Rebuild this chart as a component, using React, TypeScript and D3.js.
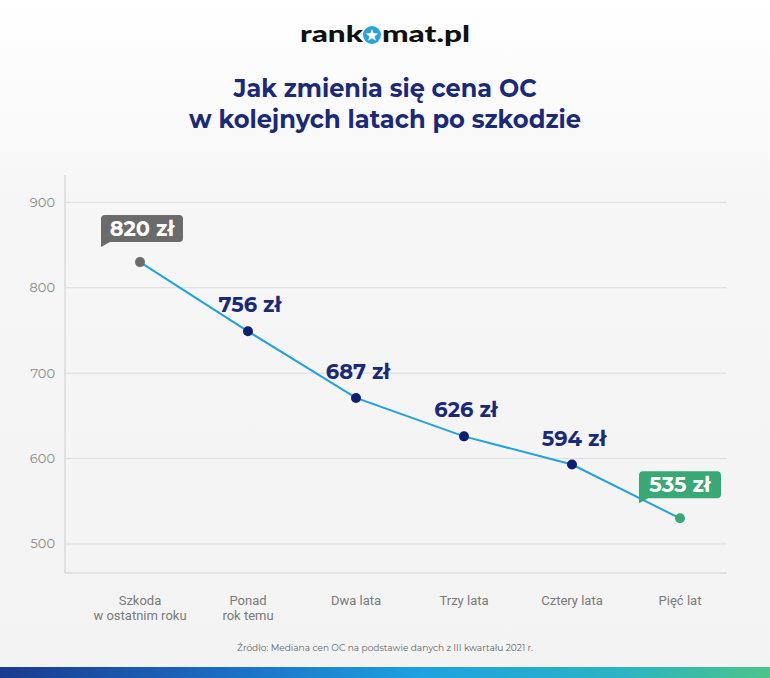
import React from "react";
import * as d3 from "d3";

const categories = ["Szkoda\nw ostatnim roku", "Ponad\nrok temu", "Dwa lata", "Trzy lata", "Cztery lata", "Pięć lat"];
const values = [830, 749, 671, 626, 593, 530];
const valueLabels = ["820 zł", "756 zł", "687 zł", "626 zł", "594 zł", "535 zł"];
const yTicks = [500, 600, 700, 800, 900];
const titleLines = ["Jak zmienia się cena OC", "w kolejnych latach po szkodzie"];
const sourceText = "Źródło: Mediana cen OC na podstawie danych z III kwartału 2021 r.";

const W = 770;
const H = 678;
const NAVY = "#1b2a78";
const LINE = "#1fa3e0";
const GRAY_BOX = "#6b6b6b";
const GREEN = "#38a874";

export default function App() {
  React.useEffect(() => {
    document.body.style.margin = "0";
  }, []);

  const x = d3.scalePoint<string>().domain(categories).range([140, 680]);
  const y = d3.scaleLinear().domain([466, 932]).range([573, 175]);
  const line = d3
    .line<number>()
    .x((_, i) => x(categories[i]) as number)
    .y((d) => y(d));

  const pointColor = (i: number) => (i === 0 ? GRAY_BOX : i === values.length - 1 ? GREEN : "#0d1f6e");

  const font = "Montserrat, 'Open Sans', Lato, sans-serif";

  return (
    <svg width={W} height={H} style={{ position: "absolute", left: 0, top: 0, display: "block" }}>
      <defs>
        <linearGradient id="bg" x1="0" y1="0" x2="0" y2="1">
          <stop offset="0" stopColor="#ffffff" />
          <stop offset="0.3" stopColor="#f6f6f6" />
          <stop offset="1" stopColor="#f3f3f3" />
        </linearGradient>
        <linearGradient id="bar" x1="0" y1="0" x2="1" y2="0">
          <stop offset="0" stopColor="#1a3a8f" />
          <stop offset="0.3" stopColor="#1c6fc4" />
          <stop offset="0.55" stopColor="#1ea2e0" />
          <stop offset="0.8" stopColor="#2bb3c4" />
          <stop offset="1" stopColor="#4cc48a" />
        </linearGradient>
      </defs>
      <rect x={0} y={0} width={W} height={H} fill="url(#bg)" />

      {/* logo */}
      <text x={363} y={42} textAnchor="end" fontFamily="Lato, 'DejaVu Sans', sans-serif" fontWeight={900} fontSize={23} fill="#111" textLength={63} lengthAdjust="spacingAndGlyphs">rank</text>
      <circle cx={372} cy={35} r={9} fill="#2aa3dc" />
      <path
        d={d3.range(10).map((k) => {
          const a = -Math.PI / 2 + (k * Math.PI) / 5;
          const r = k % 2 === 0 ? 6.5 : 2.8;
          return `${k === 0 ? "M" : "L"}${372 + r * Math.cos(a)},${35.5 + r * Math.sin(a)}`;
        }).join("") + "Z"}
        fill="#fff"
      />
      <text x={382} y={42} fontFamily="Lato, 'DejaVu Sans', sans-serif" fontWeight={900} fontSize={23} fill="#111" textLength={88} lengthAdjust="spacingAndGlyphs">mat.pl</text>

      {/* title */}
      {titleLines.map((t, i) => (
        <text
          key={t}
          x={385}
          y={97 + i * 31}
          textAnchor="middle"
          fontFamily={font}
          fontWeight={700}
          fontSize={25}
          fill={NAVY}
          textLength={i === 0 ? 303 : 392}
          lengthAdjust="spacingAndGlyphs"
        >
          {t}
        </text>
      ))}

      {/* grid */}
      {yTicks.map((t) => (
        <g key={t}>
          <line x1={65} x2={727} y1={y(t)} y2={y(t)} stroke="#dcdcdc" strokeWidth={1} />
          <text x={55} y={y(t) + 4.5} textAnchor="end" fontFamily={font} fontSize={13} fill="#8a8a8a">
            {t}
          </text>
        </g>
      ))}
      <line x1={65} x2={65} y1={175} y2={y.range()[0]} stroke="#cfcfcf" strokeWidth={1} />
      <line x1={65} x2={727} y1={y.range()[0]} y2={y.range()[0]} stroke="#cfcfcf" strokeWidth={1} />

      {/* x labels */}
      {categories.map((c) => (
        <text key={c} x={x(c)} y={605} textAnchor="middle" fontFamily="Roboto, 'Open Sans', sans-serif" fontSize={13} fill="#7a7a7a">
          {c.split("\n").map((ln, j) => (
            <tspan key={j} x={x(c)} dy={j === 0 ? 0 : 15}>
              {ln}
            </tspan>
          ))}
        </text>
      ))}

      {/* line */}
      <path d={line(values) as string} fill="none" stroke={LINE} strokeWidth={2} />

      {values.map((v, i) => {
        const cx = x(categories[i]) as number;
        const cy = y(v);
        return <circle key={i} cx={cx} cy={cy} r={5} fill={pointColor(i)} />;
      })}

      {/* value labels */}
      {values.map((v, i) => {
        const cx = x(categories[i]) as number;
        const cy = y(v);
        const boxed = i === 0 || i === values.length - 1;
        if (boxed) {
          const bw = 82;
          const bh = 27;
          const bx = cx - bw / 2 + (i === 0 ? 2 : 0);
          const by = cy - 20 - bh;
          const fill = i === 0 ? GRAY_BOX : GREEN;
          return (
            <g key={i}>
              <rect x={bx} y={by} width={bw} height={bh} rx={4} fill={fill} />
              <path d={`M${bx},${by + bh - 6}L${bx + 9},${by + bh}L${bx},${by + bh + 5}Z`} fill={fill} />
              <text x={bx + bw / 2} y={by + 21} textAnchor="middle" fontFamily={font} fontWeight={700} fontSize={21} fill="#fff">
                {valueLabels[i]}
              </text>
            </g>
          );
        }
        return (
          <text key={i} x={cx + 2} y={cy - 19} textAnchor="middle" fontFamily={font} fontWeight={700} fontSize={21} fill={NAVY}>
            {valueLabels[i]}
          </text>
        );
      })}

      {/* source */}
      <text x={385} y={651} textAnchor="middle" fontFamily={font} fontSize={10} fill="#666" textLength={296} lengthAdjust="spacingAndGlyphs">
        {sourceText}
      </text>

      <rect x={0} y={667} width={W} height={11} fill="url(#bar)" />
    </svg>
  );
}
